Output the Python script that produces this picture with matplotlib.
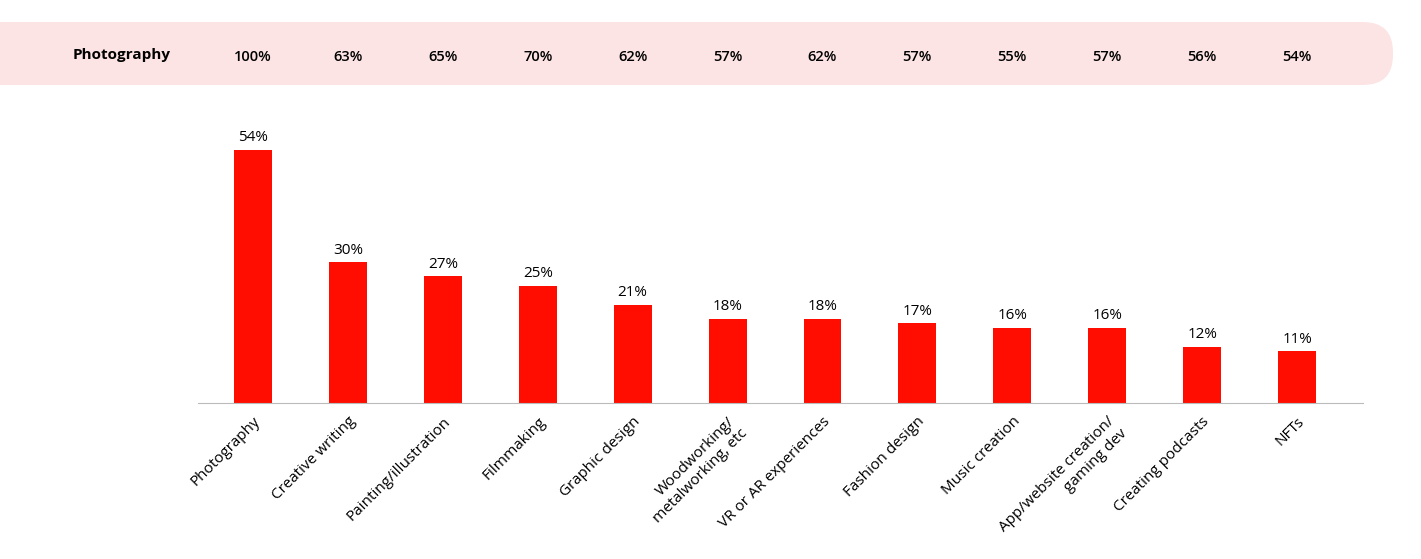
import matplotlib.pyplot as plt
from matplotlib.patches import FancyBboxPatch

categories = ["Photography", "Creative writing", "Painting/illustration", "Filmmaking",
              "Graphic design", "Woodworking/\nmetalworking, etc", "VR or AR experiences",
              "Fashion design", "Music creation", "App/website creation/\ngaming dev",
              "Creating podcasts", "NFTs"]
values = [54, 30, 27, 25, 21, 18, 18, 17, 16, 16, 12, 11]
overlap = ["100%", "63%", "65%", "70%", "62%", "57%", "62%", "57%", "55%", "57%", "56%", "54%"]

W, H = 1421, 559
fig = plt.figure(figsize=(W / 100, H / 100), dpi=100)
plt.rcParams["font.family"] = "Open Sans"

# pink banner
band = fig.add_axes([0, 0, 1, 1], zorder=0)
band.set_xlim(0, W)
band.set_ylim(H, 0)
band.axis("off")
band.add_patch(FancyBboxPatch((-40, 22), 1433, 63, boxstyle="round,pad=0,rounding_size=30",
                              fc="#fde4e4", ec="none"))
band.text(73, 55, "Photography", fontsize=11, fontweight="bold", va="center", ha="left")

ax = fig.add_axes([198 / W, (H - 403) / H, 1165 / W, 283 / H], zorder=1)
x = list(range(len(values)))
ax.bar(x, values, width=0.4, color="#ff0d00")
ax.set_xlim(-0.58, 11.695)
ax.set_ylim(0, 60.4)
for i, v in enumerate(values):
    ax.text(i, v + 1, f"{v}%", ha="center", va="bottom", fontsize=11)
    # overlap row in banner, aligned to bar centres
    px = 198 + (i + 0.58) * 94.9
    band.text(px, 57, overlap[i], ha="center", va="center", fontsize=10.5, fontweight="semibold")

ax.set_xticks(x)
ax.set_xticklabels(categories, rotation=45, ha="right", rotation_mode="anchor", fontsize=11)
ax.tick_params(axis="x", length=0, pad=8)
ax.set_yticks([])
for s in ["top", "right", "left"]:
    ax.spines[s].set_visible(False)
ax.spines["bottom"].set_color("#bbbbbb")
ax.patch.set_alpha(0)

fig.savefig("out.png", dpi=100)
